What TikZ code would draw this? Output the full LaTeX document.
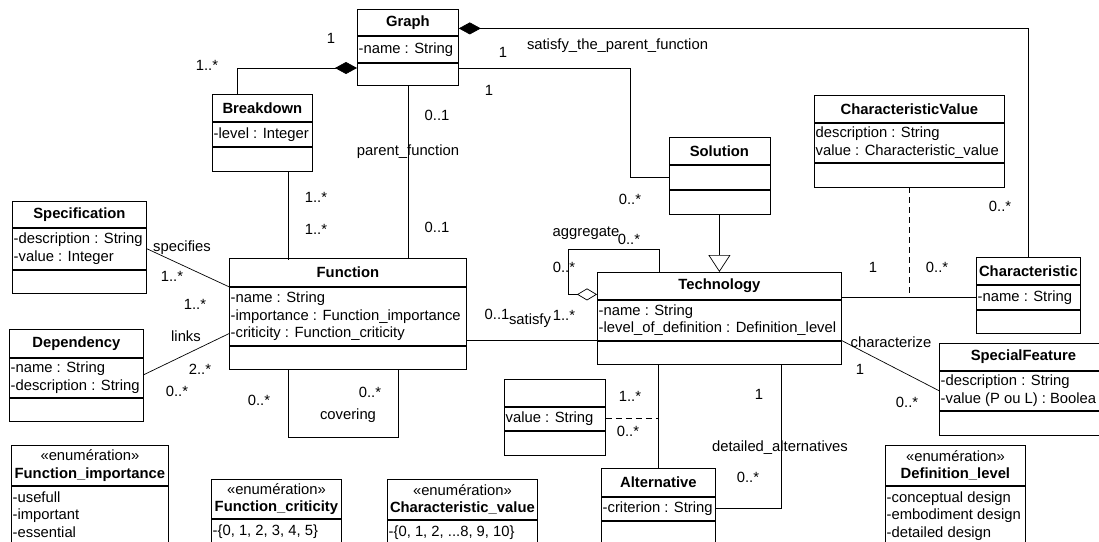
\documentclass[tikz,border=0pt]{standalone}
\usepackage{fontspec}
\setmainfont{Liberation Sans}
\usepackage{tikz}
\usetikzlibrary{arrows.meta}
\AtBeginDocument{\fontsize{14.8}{17.5}\selectfont}

\tikzset{
  part/.style={draw, line width=0.8pt, inner sep=0pt},
  attr/.style={anchor=west, align=left, inner xsep=1.5pt, inner ysep=0pt},
  mult/.style={inner sep=0pt, text height=1.5ex, text depth=.25ex},
  link/.style={line width=0.7pt},
  comp/.style={link, {Diamond[length=22pt,width=12pt]}-},
  aggr/.style={link, -{Diamond[open,length=20pt,width=12pt]}},
  gen/.style={link, -{Triangle[open,length=17pt,width=22pt]}},
  assocline/.style={link, dash pattern=on 6pt off 4pt}
}

% class box: name, top left, width, heights of the three parts, title, attributes
\newcommand{\umlclass}[8]{
  \node[part, anchor=north west, minimum width=#3pt, minimum height=#4pt, font=\bfseries] (#1-h) at #2 {#7};
  \node[part, anchor=north, minimum width=#3pt, minimum height=#5pt] (#1-a) at (#1-h.south) {};
  \node[attr] (#1-t) at (#1-a.west) {#8};
  \node[part, anchor=north, minimum width=#3pt, minimum height=#6pt] (#1-o) at (#1-a.south) {};
}
% enumeration box: name, top left, width, header height, title, items
\newcommand{\umlenum}[6]{
  \node[part, anchor=north west, minimum width=#3pt, minimum height=#4pt, align=center] (#1-h) at #2 {«enumération»\\\textbf{#5}};
  \node[part, anchor=north, minimum width=#3pt, minimum height=80pt] (#1-a) at (#1-h.south) {};
  \node[attr, anchor=north west, inner ysep=5.5pt] (#1-t) at (#1-a.north west) {#6};
}

\begin{document}
\begin{tikzpicture}[x=1pt,y=-1pt,>=stealth]
	\useasboundingbox (0,0) rectangle (1099,541);
	\clip (0,0) rectangle (1099,541);

	% The classes
	\umlclass{graph}{(357,9)}{101}{26}{26}{22}{Graph}{-name : String}
	\umlclass{brk}{(212,94)}{100}{27}{24}{24}{Breakdown}{-level : Integer}
	\umlclass{spec}{(12,201)}{134}{26}{41}{23}{Specification}{-description : String\\-value : Integer}
	\umlclass{dep}{(9,329)}{134}{28}{39}{23}{Dependency}{-name : String\\-description : String}
	\umlclass{func}{(229,258)}{237}{28}{58}{23}{Function}{-name : String\\-importance : Function\_importance\\-criticity : Function\_criticity}
	\umlclass{sol}{(668.5,137)}{101}{27}{24}{24}{Solution}{}
	\umlclass{cval}{(814,95)}{190}{27}{39}{24}{CharacteristicValue}{description : String\\value : Characteristic\_value}
	\umlclass{tech}{(597,272)}{244}{27}{40}{23}{Technology}{-name : String\\-level\_of\_definition : Definition\_level}
	\umlclass{char}{(976,257)}{104}{27}{24}{23}{Characteristic}{-name : String}
	\umlclass{feat}{(939,343)}{168}{27}{39}{24}{SpecialFeature}{-description : String\\-value (P ou L) : Boolea}
	\umlclass{assoc}{(504,379)}{101}{27}{23}{24}{}{value : String}
	\umlclass{alt}{(601,468)}{114}{28}{23}{40}{Alternative}{-criterion : String}

	% The enumerations
	\umlenum{fimp}{(11,445)}{157}{40}{Function\_importance}{-usefull\\-important\\-essential}
	\umlenum{fcrit}{(211,479)}{130}{39}{Function\_criticity}{-\{0, 1, 2, 3, 4, 5\}}
	\umlenum{cvenum}{(387,479)}{150}{40}{Characteristic\_value}{-\{0, 1, 2, ...8, 9, 10\}}
	\umlenum{dlev}{(885,445)}{140}{40}{Definition\_level}{-conceptual design\\-embodiment design\\-detailed design}

	% The associations
	\coordinate (aggbend) at (568,249);
	\draw[comp] ([yshift=6pt]graph-o.west) -| ([xshift=-25pt]brk-h.north);
	\draw[comp] ([yshift=-6pt]graph-h.east) -| (char-h.north);
	\draw[link] ([yshift=6pt]graph-o.east) -| ([xshift=-38pt]sol-a.west) -- (sol-a.west);
	\draw[link] (graph-o.south) -- (graph-o.south |- func-h.north);
	\draw[link] ([xshift=26pt]brk-o.south) -- ++(0,89);
	\draw[link] (spec-a.east) -- (func-h.south west);
	\draw[link] ([yshift=3pt]dep-a.east) -- ([yshift=12pt]func-a.south west);
	\draw[link] ([xshift=-59.5pt]func-o.south) -- ++(0,68) -| ([xshift=50.5pt]func-o.south);
	\draw[link] (tech-a.south west) -- (tech-a.south west -| func-a.east);
	\draw[aggr] ([xshift=-60pt]tech-h.north) |- (aggbend) |- ([yshift=-8.5pt]tech-h.west);
	\draw[gen] (sol-o.south) -- (sol-o.south |- tech-h.north);
	\draw[link] (char-a.west) -- (char-a.west -| tech-h.east);
	\draw[assocline] (cval-o.south) -- (cval-o.south |- char-a.west);
	\draw[link] (tech-a.south east) -- (feat-a.west);
	\draw[link] (alt-h.north) -- (alt-h.north |- tech-o.south);
	\draw[assocline] (assoc-a.east) -- (assoc-a.east -| alt-h.north);
	\draw[link] (alt-a.east) -| ([xshift=62pt]tech-o.south);

	% The role names and multiplicities
	\node[mult] (m1) at (331,39) {1};
	\node[mult] (m2) at (207,66) {1..*};
	\node[mult] (m3) at (503,53) {1};
	\node[mult] (m4) at (617.5,45) {satisfy\_the\_parent\_function};
	\node[mult] (m5) at (489,91) {1};
	\node[mult] (m6) at (630,200) {0..*};
	\node[mult] (m7) at (1000,207) {0..*};
	\node[mult] (m8) at (437,116) {0..1};
	\node[mult] (m9) at (408,151) {parent\_function};
	\node[mult] (m10) at (437,228) {0..1};
	\node[mult] (m11) at (316,198) {1..*};
	\node[mult] (m12) at (316,230) {1..*};
	\node[mult] (m13) at (182,247) {specifies};
	\node[mult] (m14) at (172,277) {1..*};
	\node[mult] (m15) at (195,305) {1..*};
	\node[mult] (m16) at (186,337) {links};
	\node[mult] (m17) at (200,370) {2..*};
	\node[mult] (m18) at (177,392) {0..*};
	\node[mult] (m19) at (259,401) {0..*};
	\node[mult] (m20) at (370,393) {0..*};
	\node[mult] (m21) at (348,415) {covering};
	\node[mult] (m22) at (497,315) {0..1};
	\node[mult] (m23) at (530,320) {satisfy};
	\node[mult] (m24) at (564,316) {1..*};
	\node[mult] (m25) at (586,232) {aggregate};
	\node[mult] (m26) at (629,240) {0..*};
	\node[mult] (m27) at (564,268) {0..*};
	\node[mult] (m28) at (873,268) {1};
	\node[mult] (m29) at (937,268) {0..*};
	\node[mult] (m30) at (891,343) {characterize};
	\node[mult] (m31) at (860,370) {1};
	\node[mult] (m32) at (907,403) {0..*};
	\node[mult] (m33) at (630,397) {1..*};
	\node[mult] (m34) at (628,432) {0..*};
	\node[mult] (m35) at (759,395) {1};
	\node[mult] (m36) at (780,447) {detailed\_alternatives};
	\node[mult] (m37) at (748,478) {0..*};
\end{tikzpicture}
\end{document}
